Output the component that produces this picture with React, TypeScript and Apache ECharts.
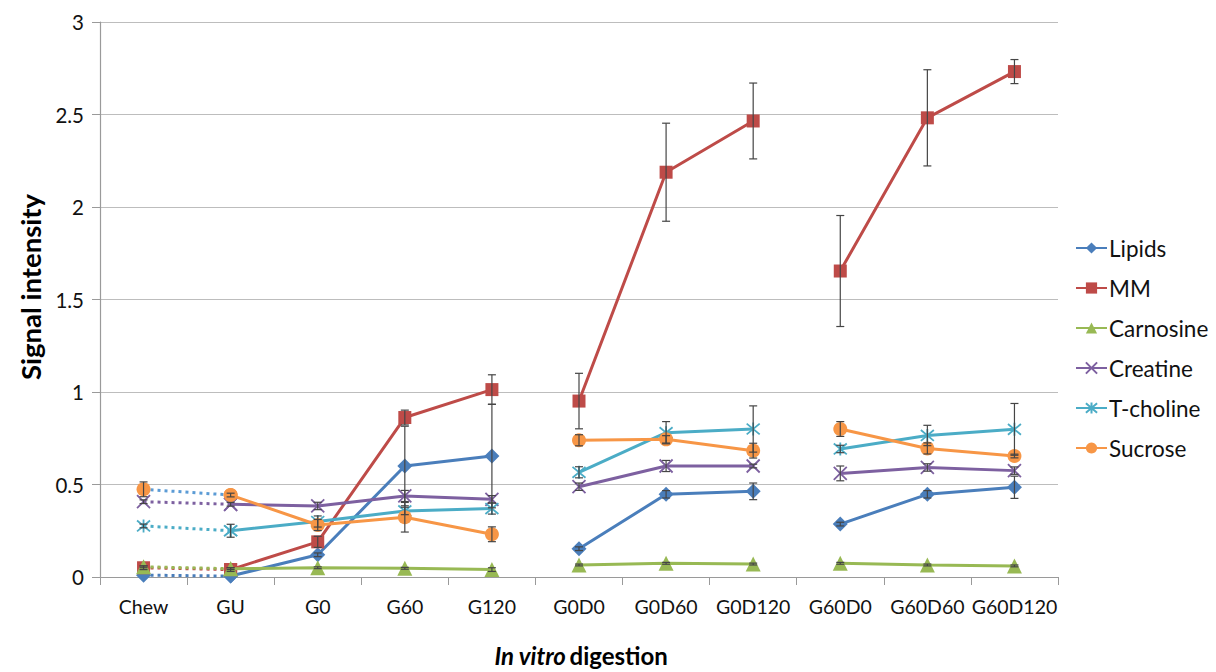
import React, { useEffect, useRef } from "react";
import * as echarts from "echarts";

const categories = ["Chew", "GU", "G0", "G60", "G120", "G0D0", "G0D60", "G0D120", "G60D0", "G60D60", "G60D120"];

const lipids = [0.01, 0.005, 0.12, 0.6, 0.654, 0.153, 0.447, 0.463, 0.286, 0.447, 0.485];
const mm = [0.05, 0.04, 0.19, 0.862, 1.013, 0.951, 2.188, 2.465, 1.654, 2.482, 2.732];
const carnosine = [0.055, 0.045, 0.05, 0.047, 0.04, 0.065, 0.074, 0.07, 0.074, 0.065, 0.06];
const creatine = [0.407, 0.393, 0.384, 0.438, 0.42, 0.488, 0.6, 0.6, 0.56, 0.592, 0.575];
const tcholine = [0.276, 0.25, 0.3, 0.357, 0.37, 0.566, 0.78, 0.8, 0.692, 0.765, 0.798];
const sucrose = [0.474, 0.443, 0.281, 0.323, 0.231, 0.739, 0.744, 0.683, 0.8, 0.695, 0.654];

const lipidsErr = [0, 0, 0.01, 0.215, 0.28, 0.01, 0.02, 0.045, 0.01, 0.02, 0.06];
const mmErr = [0.01, 0.01, 0.03, 0.04, 0.08, 0.15, 0.265, 0.205, 0.3, 0.26, 0.065];
const carnosineErr = [0.005, 0.005, 0.005, 0.005, 0.01, 0.005, 0.005, 0.005, 0.005, 0.005, 0.005];
const creatineErr = [0.01, 0.01, 0.02, 0.03, 0.02, 0.02, 0.03, 0.01, 0.04, 0.02, 0.02];
const tcholineErr = [0.01, 0.035, 0.03, 0.02, 0.03, 0.03, 0.06, 0.125, 0.02, 0.055, 0.14];
const sucroseErr = [0.04, 0.01, 0.03, 0.08, 0.04, 0.03, 0.02, 0.04, 0.04, 0.03, 0.01];

const seriesNames = ["Lipids", "MM", "Carnosine", "Creatine", "T-choline", "Sucrose"];
const yTicks = [0, 0.5, 1, 1.5, 2, 2.5, 3];

const FONT = "Lato, 'Open Sans', sans-serif";

const X_PATH = "path://M0,0L10,10M10,0L0,10";
const STAR_PATH = "path://M0,0L10,10M10,0L0,10M5,-1L5,11";

const metrics = [
  { name: "Lipids", values: lipids, err: lipidsErr, color: "#4a7ebb", dotColor: "#4a7ebb", symbol: "diamond", size: 15, stroke: false },
  { name: "MM", values: mm, err: mmErr, color: "#be4b48", dotColor: "#be4b48", symbol: "rect", size: 13, stroke: false },
  { name: "Carnosine", values: carnosine, err: carnosineErr, color: "#98b954", dotColor: "#98b954", symbol: "triangle", size: 15, stroke: false },
  { name: "Creatine", values: creatine, err: creatineErr, color: "#7d60a0", dotColor: "#7d60a0", symbol: X_PATH, size: 13, stroke: true },
  { name: "T-choline", values: tcholine, err: tcholineErr, color: "#4bacc6", dotColor: "#4bacc6", symbol: STAR_PATH, size: 13, stroke: true },
  { name: "Sucrose", values: sucrose, err: sucroseErr, color: "#f79646", dotColor: "#5b9bd5", symbol: "circle", size: 14, stroke: false },
];

function seg(values: number[], from: number, to: number) {
  return values.map((v, i) => (i >= from && i <= to ? v : "-"));
}

export default function App() {
  const ref = useRef<HTMLDivElement>(null);
  useEffect(() => {
    if (!ref.current) return;
    const chart = echarts.init(ref.current, undefined, { renderer: "svg" });

    const series: any[] = [];
    metrics.forEach((m, mi) => {
      const itemStyle: any = m.stroke
        ? { color: m.color, borderColor: m.color, borderWidth: 1.8 }
        : { color: m.color };
      const base = {
        type: "line",
        symbol: m.symbol,
        symbolSize: m.size,
        showSymbol: true,
        itemStyle,
        z: 3 + mi * 0.01,
        lineStyle: { color: m.color, width: 3 },
      };
      series.push({ ...base, name: m.name, data: seg(m.values, 1, 4) });
      series.push({ ...base, name: m.name + " (2)", data: seg(m.values, 5, 7) });
      series.push({ ...base, name: m.name + " (3)", data: seg(m.values, 8, 10) });
      series.push({
        ...base,
        name: m.name + " (chew)",
        data: seg(m.values, 0, 1),
        z: 2,
        lineStyle: { color: m.dotColor, width: 3, type: [3, 4] },
      });
      const errData = m.values
        .map((v, i) => [i, v - m.err[i], v + m.err[i], m.err[i]])
        .filter((d) => d[3] > 0);
      series.push({
        type: "custom",
        name: m.name + " (err)",
        data: errData,
        z: 4,
        encode: { x: 0, y: [1, 2] },
        renderItem: (params: any, api: any) => {
          const idx = api.value(0);
          const lo = api.coord([idx, api.value(1)]);
          const hi = api.coord([idx, api.value(2)]);
          const cw = 4;
          const style = { stroke: "#454545", lineWidth: 1.2 };
          return {
            type: "group",
            children: [
              { type: "line", shape: { x1: lo[0], y1: lo[1], x2: hi[0], y2: hi[1] }, style },
              { type: "line", shape: { x1: lo[0] - cw, y1: lo[1], x2: lo[0] + cw, y2: lo[1] }, style },
              { type: "line", shape: { x1: hi[0] - cw, y1: hi[1], x2: hi[0] + cw, y2: hi[1] }, style },
            ],
          };
        },
      });
    });

    chart.setOption({
      animation: false,
      backgroundColor: "#ffffff",
      textStyle: { fontFamily: FONT },
      grid: { left: 100, right: 158, top: 22, bottom: 95 },
      legend: {
        data: seriesNames,
        orient: "vertical",
        left: 1070,
        top: 231,
        itemWidth: 31,
        itemHeight: 14,
        itemGap: 16,
        textStyle: { fontFamily: FONT, fontSize: 22.5, color: "#111", lineHeight: 24, padding: [0, 0, 0, -3] },
      },
      xAxis: {
        type: "category",
        data: categories,
        boundaryGap: true,
        axisLine: { lineStyle: { color: "#9a9a9a", width: 1.2 } },
        axisTick: { show: true, length: 8, interval: 0, lineStyle: { color: "#9a9a9a" } },
        axisLabel: { fontFamily: FONT, fontSize: 19.5, color: "#111", margin: 19, interval: 0 },
      },
      yAxis: {
        type: "value",
        min: 0,
        max: 3,
        interval: 0.5,
        axisLine: { show: true, lineStyle: { color: "#9a9a9a", width: 1.2 } },
        axisTick: { show: true, length: 8, lineStyle: { color: "#9a9a9a" } },
        axisLabel: {
          fontFamily: FONT,
          fontSize: 20.5,
          color: "#111",
          margin: 16,
          formatter: (v: number) => (yTicks.includes(v) ? String(v) : ""),
        },
        splitLine: { lineStyle: { color: "#bdbdbd", width: 1.2 } },
      },
      graphic: [
        {
          type: "text",
          x: 30,
          y: 287,
          rotation: Math.PI / 2,
          style: {
            text: "Signal intensity",
            fontFamily: FONT,
            fontSize: 27.5,
            fontWeight: "bold",
            fill: "#000",
            align: "center",
            verticalAlign: "middle",
          },
        },
        {
          type: "text",
          x: 581,
          y: 655,
          style: {
            text: "{i|In vitro} {b|digestion}",
            align: "center",
            verticalAlign: "middle",
            rich: {
              i: { fontFamily: FONT, fontSize: 24, fontWeight: "bold", fontStyle: "italic", fill: "#000" },
              b: { fontFamily: FONT, fontSize: 24, fontWeight: "bold", fill: "#000" },
            },
          },
        },
      ],
      series,
    });
    return () => chart.dispose();
  }, []);
  return <div ref={ref} style={{ position: "fixed", left: 0, top: 0, width: 1216, height: 672 }} />;
}
